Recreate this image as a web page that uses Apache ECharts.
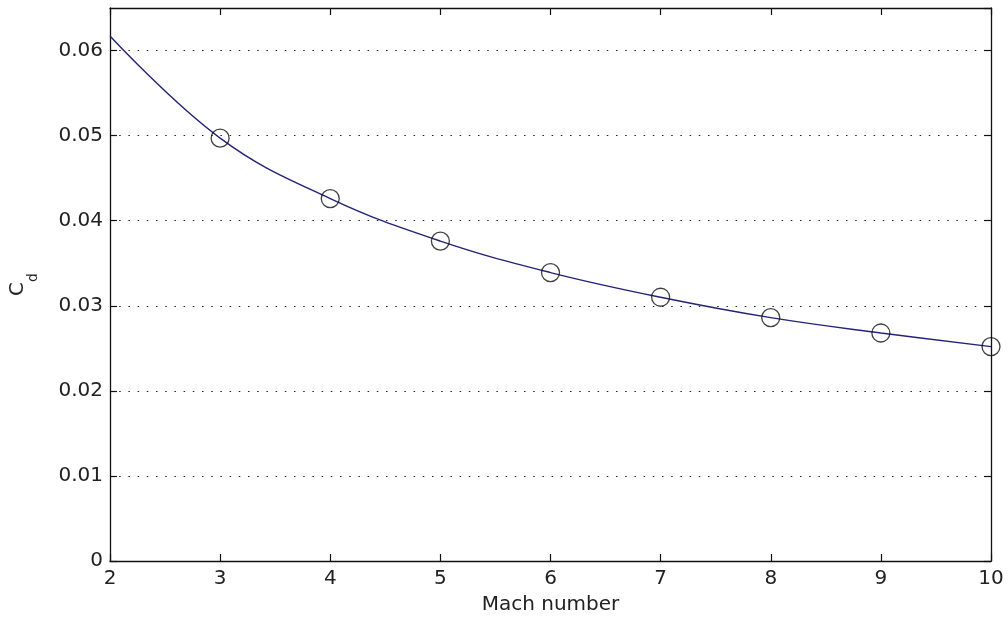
<!DOCTYPE html>
<html>
<head>
<meta charset="utf-8">
<script src="https://cdn.jsdelivr.net/npm/echarts@6/dist/echarts.min.js"></script>
<style>
html,body{margin:0;padding:0;background:#fff;}
#chart{width:1008px;height:619px;}
</style>
</head>
<body>
<div id="chart"></div>
<script>
// Data
var machNumbers = [2, 3, 4, 5, 6, 7, 8, 9, 10];
var cdValues = [0.0617, 0.0497, 0.0426, 0.0376, 0.0339, 0.0310, 0.0286, 0.0268, 0.0252];
var markerMach = [3, 4, 5, 6, 7, 8, 9, 10];
var markerCd = [0.0497, 0.0426, 0.0376, 0.0339, 0.0310, 0.0286, 0.0268, 0.0252];
var xTicks = [2, 3, 4, 5, 6, 7, 8, 9, 10];
var yTickLabels = ['0', '0.01', '0.02', '0.03', '0.04', '0.05', '0.06'];
var xLabel = 'Mach number';

var FONT = 'DejaVu Sans';
var lineData = machNumbers.map(function (m, i) { return [m, cdValues[i]]; });
var markData = markerMach.map(function (m, i) { return [m, markerCd[i]]; });

var chart = echarts.init(document.getElementById('chart'), null, {renderer: 'canvas'});
var axisLine = {show: true, onZero: false, lineStyle: {color: '#111', width: 1.3}};
var tickIn = {show: true, inside: true, length: 7, lineStyle: {color: '#111', width: 1.2}};

chart.setOption({
  backgroundColor: '#ffffff',
  animation: false,
  grid: {left: 110, right: 17, top: 8, bottom: 58, containLabel: false, outerBoundsMode: 'none'},
  xAxis: [{
    type: 'value', min: 2, max: 10, interval: 1, position: 'bottom',
    axisLine: axisLine, axisTick: tickIn,
    axisLabel: {color: '#222', fontFamily: FONT, fontSize: 20, margin: 8,
      formatter: function (v) { return xTicks.indexOf(v) >= 0 ? String(v) : ''; }},
    splitLine: {show: false},
    name: xLabel, nameLocation: 'middle', nameGap: 34,
    nameTextStyle: {color: '#222', fontFamily: FONT, fontSize: 20}
  }, {
    type: 'value', min: 2, max: 10, interval: 1, position: 'top',
    axisLine: axisLine, axisTick: tickIn, axisLabel: {show: false}, splitLine: {show: false}
  }],
  yAxis: [{
    type: 'value', min: 0, max: 0.065, interval: 0.01, position: 'left',
    axisLine: axisLine, axisTick: tickIn,
    axisLabel: {color: '#222', fontFamily: FONT, fontSize: 20, margin: 7, showMaxLabel: false,
      formatter: function (v) {
        var idx = Math.round(v / 0.01);
        if (Math.abs(v - idx * 0.01) > 1e-9) return '';
        return yTickLabels[idx] || '';
      }},
    splitLine: {show: true, showMinLine: false, showMaxLine: false,
      lineStyle: {color: '#222', width: 1.2, type: [1.5, 7.7]}},
    name: '{c|C}{d|d}', nameLocation: 'middle', nameGap: 70, nameRotate: 90,
    nameTextStyle: {color: '#222', fontFamily: FONT,
      rich: {
        c: {fontFamily: FONT, fontSize: 20, lineHeight: 20, verticalAlign: 'top', color: '#222'},
        d: {fontFamily: FONT, fontSize: 14, lineHeight: 32, verticalAlign: 'bottom', color: '#222'}
      }}
  }, {
    type: 'value', min: 0, max: 0.065, interval: 0.01, position: 'right',
    axisLine: axisLine, axisTick: tickIn, axisLabel: {show: false}, splitLine: {show: false}
  }],
  series: [{
    type: 'line', xAxisIndex: 0, yAxisIndex: 0,
    data: lineData, smooth: 0.4, showSymbol: false,
    lineStyle: {color: '#23237a', width: 1.4}, z: 2
  }, {
    type: 'scatter', xAxisIndex: 0, yAxisIndex: 0,
    data: markData, symbol: 'circle', symbolSize: 18,
    itemStyle: {color: 'rgba(0,0,0,0)', borderColor: '#111', borderWidth: 1.3}, z: 3
  }]
});
</script>
</body>
</html>
